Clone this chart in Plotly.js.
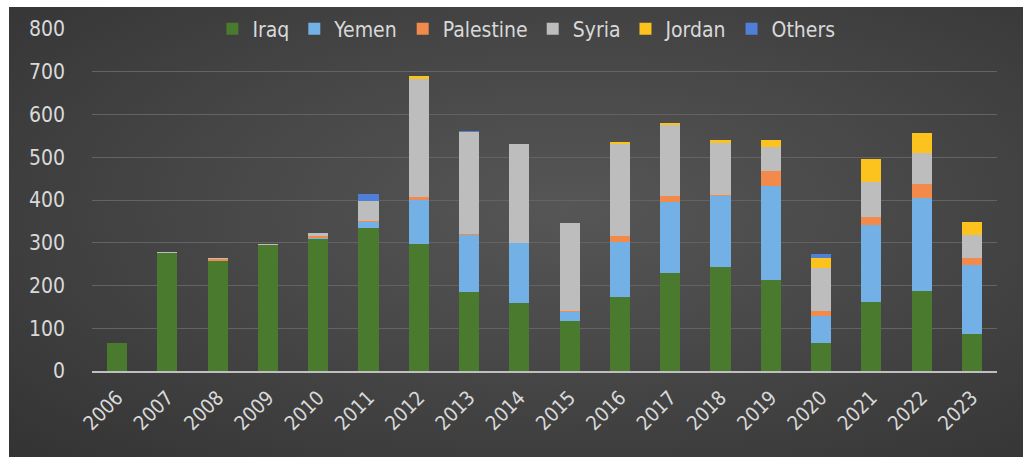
<!DOCTYPE html>
<html>
<head>
<meta charset="utf-8">
<script src="https://cdn.plot.ly/plotly-3.0.1.min.js"></script>
<style>
  html, body { margin: 0; padding: 0; background: #ffffff; }
  #bg { position: absolute; left: 9px; top: 7px; width: 1014px; height: 450px;
        background: radial-gradient(ellipse at 55% 45%, #565656 0%, #474747 45%, #333333 100%); }
  #chart { position: absolute; left: 0; top: 0; width: 1023px; height: 457px; }
</style>
</head>
<body>
<div id="bg"></div>
<div id="chart"></div>
<script>
const years = ['2006','2007','2008','2009','2010','2011','2012','2013','2014','2015','2016','2017','2018','2019','2020','2021','2022','2023'];
const iraq      = [65, 275, 258, 294, 308, 334, 296, 184, 160, 117, 172, 229, 244, 213, 66, 162, 188, 86];
const yemen     = [0, 0, 0, 0, 4, 15, 104, 134, 139, 22, 130, 167, 165, 220, 63, 180, 216, 162];
const palestine = [0, 0, 3, 0, 3, 3, 6, 3, 1, 2, 14, 13, 2, 35, 12, 18, 33, 16];
const syria     = [0, 3, 3, 3, 7, 46, 278, 239, 232, 206, 215, 166, 122, 55, 100, 81, 74, 54];
const jordan    = [0, 0, 0, 0, 0, 0, 5, 0, 0, 0, 5, 4, 8, 17, 23, 54, 45, 30];
const others    = [0, 0, 0, 0, 0, 15, 0, 2, 0, 0, 0, 0, 0, 0, 10, 0, 0, 0];

const seriesNames = ['Iraq', 'Yemen', 'Palestine', 'Syria', 'Jordan', 'Others'];
const seriesData = [iraq, yemen, palestine, syria, jordan, others];
const colors = ['#4a7a2e', '#72b0e6', '#f28a4c', '#bdbdbd', '#fcc21e', '#4f7fd6'];

const traces = seriesNames.map((n, i) => ({
  type: 'bar', name: n, x: years, y: seriesData[i],
  marker: { color: colors[i], line: { width: 0 } },
  hoverinfo: 'x+y+name'
}));

const font = 'DejaVu Sans Condensed, Liberation Sans Narrow, sans-serif';
const layout = {
  width: 1023, height: 457,
  margin: { l: 92, r: 26, t: 29, b: 86, autoexpand: false },
  paper_bgcolor: 'rgba(0,0,0,0)',
  plot_bgcolor: 'rgba(0,0,0,0)',
  barmode: 'stack',
  bargap: 0.6,
  showlegend: true,
  legend: {
    orientation: 'h', x: 0.48, xanchor: 'center', y: 1.0, yanchor: 'middle',
    font: { family: font, size: 21, color: '#d9d9d9' },
    bgcolor: 'rgba(0,0,0,0)', traceorder: 'normal', itemwidth: 30
  },
  xaxis: {
    type: 'category', tickangle: -45,
    tickfont: { family: font, size: 20, color: '#d9d9d9' },
    showline: true, linecolor: '#bfbfbf', linewidth: 2,
    ticks: '', showgrid: false, zeroline: false, ticklabelstandoff: 5
  },
  yaxis: {
    range: [0, 800], dtick: 100,
    tickfont: { family: font, size: 21, color: '#d9d9d9' },
    showgrid: true, gridcolor: '#636363', gridwidth: 1,
    zeroline: false, showline: false, ticks: '', ticklabelstandoff: 26
  }
};

Plotly.newPlot('chart', traces, layout, { displayModeBar: false, staticPlot: true });
</script>
</body>
</html>
